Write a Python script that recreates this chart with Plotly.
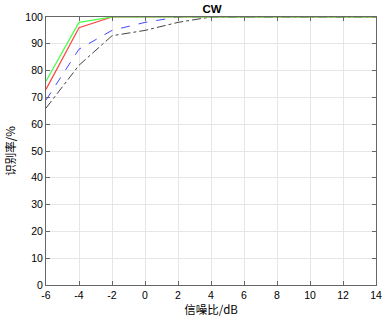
import plotly.graph_objects as go

snr = [-6, -4, -2, 0, 2, 4, 6, 8, 10, 12, 14]
green = [76, 98, 100, 100, 100, 100, 100, 100, 100, 100, 100]
red = [73, 96, 100, 100, 100, 100, 100, 100, 100, 100, 100]
blue = [69, 88, 95, 98, 100, 100, 100, 100, 100, 100, 100]
black = [66, 82, 93, 95, 98, 100, 100, 100, 100, 100, 100]

xticks = [-6, -4, -2, 0, 2, 4, 6, 8, 10, 12, 14]
xticklabels = ["-6", "-4", "-2", "0", "2", "4", "6", "8", "10", "12", "14"]
yticks = [0, 10, 20, 30, 40, 50, 60, 70, 80, 90, 100]

fig = go.Figure()
fig.add_trace(go.Scatter(x=snr, y=black, mode="lines",
                         line=dict(color="#444444", width=1, dash="dashdot")))
fig.add_trace(go.Scatter(x=snr, y=blue, mode="lines",
                         line=dict(color="#4444ff", width=1, dash="dash")))
fig.add_trace(go.Scatter(x=snr, y=red, mode="lines",
                         line=dict(color="#ff4444", width=1.2)))
fig.add_trace(go.Scatter(x=snr, y=green, mode="lines",
                         line=dict(color="#44ff44", width=1.2)))

fig.update_layout(
    width=392, height=322,
    margin=dict(l=43, r=10, t=17, b=37),
    paper_bgcolor="white", plot_bgcolor="white",
    showlegend=False,
    font=dict(family="Liberation Sans, Arial, sans-serif", size=10.5, color="#000"),
    title=dict(text="<b>CW</b>", x=0.541, xanchor="center", y=0.984, yanchor="top",
               font=dict(size=11.5, color="#000")),
)
fig.update_xaxes(range=[-6, 14], tickvals=xticks, ticktext=xticklabels,
                 ticks="inside", ticklen=4,
                 tickcolor="#666", showline=True, linecolor="#666", linewidth=1,
                 mirror="ticks", showgrid=True, gridcolor="#e6e6e6", zeroline=False,
                 title=dict(text="信噪比/dB", standoff=3,
                            font=dict(family="Noto Sans CJK SC, sans-serif", size=11.5)))
fig.update_yaxes(range=[0, 100], tickvals=yticks, ticks="inside", ticklen=4,
                 tickcolor="#666", showline=True, linecolor="#666", linewidth=1,
                 mirror="ticks", showgrid=True, gridcolor="#e6e6e6", zeroline=False,
                 title=dict(text="识别率/%", standoff=7,
                            font=dict(family="Noto Sans CJK SC, sans-serif", size=11.5)))

fig.write_html("out.html", config={"displayModeBar": False},
               post_script="document.body.style.margin='0';document.body.style.padding='0';")
